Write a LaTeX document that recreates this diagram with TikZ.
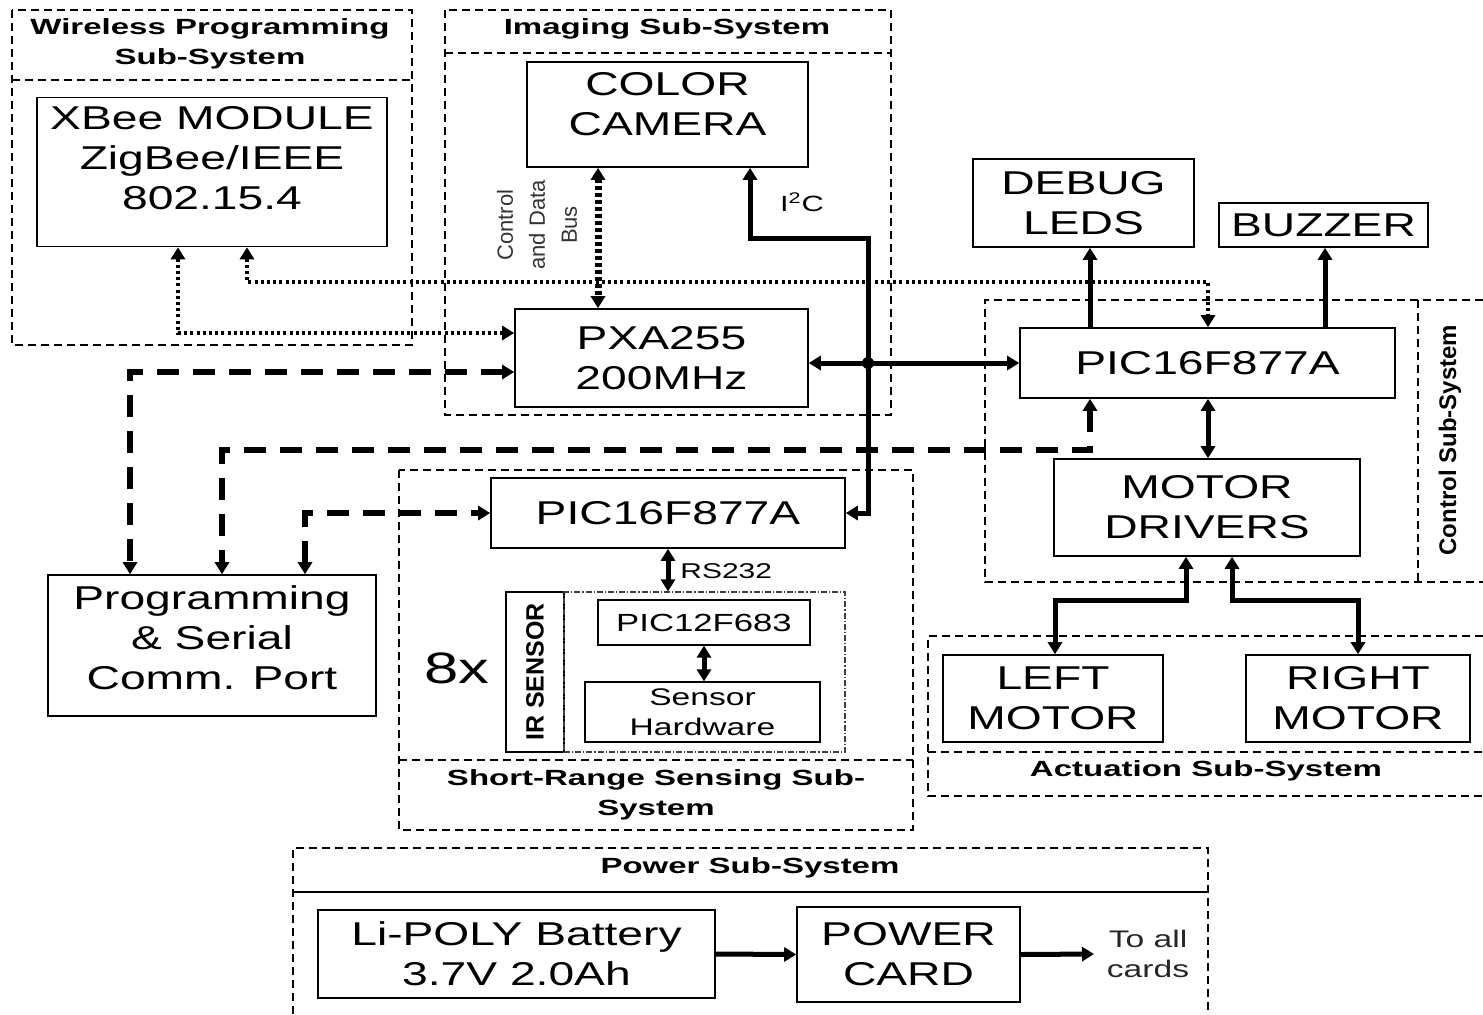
\documentclass[tikz,border=0pt]{standalone}
\usepackage{fontspec}
\setmainfont{Liberation Sans}[FakeStretch=1.4]
\newfontfamily\ttlfont{Liberation Sans}[FakeStretch=1.5]
\newfontfamily\rotfont{Liberation Sans}
\usetikzlibrary{arrows.meta}

\begin{document}
\begin{tikzpicture}[x=0.5pt, y=-0.5pt, >={Triangle[length=6pt,width=7pt]},
    blk/.style={draw, line width=0.8pt, inner sep=0pt, align=center, font=\fontsize{16.5}{20}\selectfont},
    grp/.style={line width=0.6pt, dash pattern=on 4pt off 2.5pt},
    ttl/.style={align=center, font=\ttlfont\bfseries\fontsize{11}{15}\selectfont},
    small/.style={align=center, font=\fontsize{12}{15}\selectfont},
    thk/.style={line width=2.5pt},
    dsh/.style={line width=3pt, dash pattern=on 11pt off 7pt},
    dot/.style={line width=2pt, dash pattern=on 1.5pt off 1.6pt},
    bus/.style={line width=3.5pt, dash pattern=on 2pt off 1.5pt}]
  \useasboundingbox (0,0) rectangle (1483,1014);

  % sub-system frames
  \draw[grp] (12,10) rectangle (412,345) (12,80) -- (412,80);
  \draw[grp] (445,10) rectangle (891,415) (445,53) -- (891,53);
  \draw[grp] (1483,300) -- (985,300) -- (985,582) -- (1483,582) (1418,300) -- (1418,582);
  \draw[grp] (1483,636) -- (928,636) -- (928,796) -- (1483,796) (928,752) -- (1483,752);
  \draw[grp] (399,470) rectangle (913,830) (399,760) -- (913,760);
  \draw[grp] (293,1014) -- (293,848) -- (1208,848) -- (1208,1014);
  \draw[line width=0.8pt] (293,892) -- (1208,892);

  \node[ttl] (wltl) at (210,44) {Wireless Programming\\Sub-System};
  \node[ttl] (imtl) at (667,29) {Imaging Sub-System};
  \node[ttl] (srtl) at (656,795) {Short-Range Sensing Sub-\\System};
  \node[ttl] (actl) at (1206,771) {Actuation Sub-System};
  \node[ttl] (pwtl) at (750,868) {Power Sub-System};
  \node[rotate=90, font=\rotfont\bfseries\fontsize{12}{14}\selectfont] (cttl) at (1450,440) {Control Sub-System};

  % blocks
  \node[blk, minimum width=175pt, minimum height=74.5pt, text depth=14pt] (xbee) at (212,172) {XBee MODULE\\ZigBee/IEEE\\802.15.4};
  \node[blk, minimum width=140.5pt, minimum height=52.5pt, text depth=11pt] (cam) at (667.5,114.5) {COLOR\\CAMERA};
  \node[blk, minimum width=146.5pt, minimum height=49pt] (pxa) at (661.5,358) {PXA255\\200MHz};
  \node[blk, minimum width=110.5pt, minimum height=44pt] (leds) at (1083.5,203) {DEBUG\\LEDS};
  \node[blk, minimum width=104.5pt, minimum height=22pt] (buzz) at (1323.5,225) {BUZZER};
  \node[blk, minimum width=187.5pt, minimum height=35pt] (pic) at (1207.5,363) {PIC16F877A};
  \node[blk, minimum width=153pt, minimum height=48.5pt] (drv) at (1207,507.5) {MOTOR\\DRIVERS};
  \node[blk, minimum width=110pt, minimum height=43.5pt] (lmot) at (1053,698.5) {LEFT\\MOTOR};
  \node[blk, minimum width=112pt, minimum height=43.5pt] (rmot) at (1358,698.5) {RIGHT\\MOTOR};
  \node[blk, minimum width=177pt, minimum height=35pt] (spic) at (668,513) {PIC16F877A};
  \node[blk, minimum width=164pt, minimum height=70.5pt, text depth=8pt] (prog) at (212,645.5) {Programming\\\& Serial\\Comm. Port};
  \node[blk, minimum width=198.5pt, minimum height=44pt] (bat) at (516.5,954) {Li-POLY Battery\\3.7V 2.0Ah};
  \node[blk, minimum width=111.5pt, minimum height=47.5pt] (pcard) at (908.5,954.5) {POWER\\CARD};

  \node[draw, line width=0.8pt, rotate=90, minimum width=80pt, minimum height=29pt, inner sep=0pt,
    font=\rotfont\bfseries\fontsize{12.5}{14}\selectfont] (ir) at (535,672) {IR SENSOR};
  \node[draw=black!75, line width=0.6pt, densely dash dot, minimum width=140.5pt, minimum height=80pt] (irr) at (704.5,672) {};
  \node[blk, line width=0.6pt, minimum width=106pt, minimum height=22.5pt, font=\fontsize{12.4}{15}\selectfont] (p12) at (704,622.5) {PIC12F683};
  \node[blk, line width=0.6pt, minimum width=117.5pt, minimum height=30pt, font=\fontsize{12}{15}\selectfont] (hw) at (702.5,712) {Sensor\\Hardware};
  \node[font=\fontsize{22}{24}\selectfont] (cnt) at (457,668) {8x};

  % labels
  \node[rotate=90, align=center, text=black!80, font=\rotfont\fontsize{11}{16}\selectfont] (cdb) at (537,225) {Control\\and Data\\Bus};
  \node[font=\fontsize{11}{13}\selectfont] (i2c) at (802,202) {I\textsuperscript{2}C};
  \node[anchor=west, inner sep=1pt, font=\fontsize{10.7}{13}\selectfont] (rs) at (678,571) {RS232};
  \node[small, text=black!85] (toall) at (1148,954) {To all\\cards};
  \coordinate (jn) at (868,363);
  \coordinate (out) at (1094,954);

  % connectors
  \draw[bus, <->] (598,0 |- cam.south) -- (598,0 |- pxa.north);
  \draw[thk, <->] (750,0 |- cam.south) -- (750,238) -- (868,238) -- (868,0 |- spic.east) -- (spic.east);
  \draw[thk, <->] (pxa.east |- pic.west) -- (pic.west);
  \fill (jn) circle (3pt);
  \draw[dot, <->] (178,0 |- xbee.south) -- (178,333) -- (pxa.west |- 0,333);
  \draw[dot, <->] (247,0 |- xbee.south) -- (247,282) -- (1208,282) -- (1208,0 |- pic.north);
  \draw[dsh, <->] (pxa.west |- 0,372) -- (130,372) -- (130,0 |- prog.north);
  \draw[dsh, <->] (1090,0 |- pic.south) -- (1090,450) -- (222,450) -- (222,0 |- prog.north);
  \draw[dsh, <->] (305,0 |- prog.north) -- (305,513) -- (spic.west);
  \draw[thk, ->] (1090,0 |- pic.north) -- (1090,0 |- leds.south);
  \draw[thk, ->] (1325,0 |- pic.north) -- (1325,0 |- buzz.south);
  \draw[thk, <->] (1208,0 |- pic.south) -- (1208,0 |- drv.north);
  \draw[thk, <->] (1186,0 |- drv.south) -- (1186,600) -- (1055,600) -- (1055,0 |- lmot.north);
  \draw[thk, <->] (1232,0 |- drv.south) -- (1232,600) -- (1358,600) -- (rmot.north);
  \draw[thk, <->] (spic.south) -- (spic.south |- irr.north);
  \draw[thk, <->] (p12.south) -- (p12.south |- hw.north);
  \draw[thk, ->] (bat.east) -- (pcard.west);
  \draw[thk, ->] (pcard.east) -- (out);
\end{tikzpicture}
\end{document}
